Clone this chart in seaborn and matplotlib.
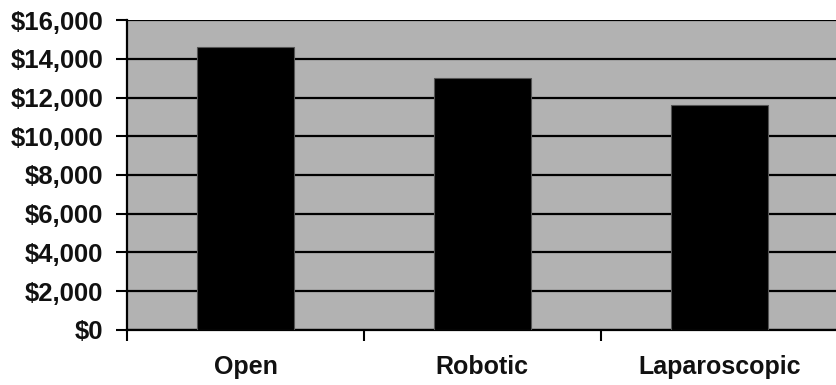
import matplotlib
matplotlib.use("Agg")
import matplotlib.pyplot as plt
import seaborn as sns
import pandas as pd
from matplotlib.ticker import FuncFormatter, FixedLocator

categories = ["Open", "Robotic", "Laparoscopic"]
costs = [14600, 13000, 11600]
yticks = list(range(0, 16001, 2000))

sns.set_style("white")
plt.rcParams["font.family"] = ["Liberation Sans", "DejaVu Sans"]
plt.rcParams["font.weight"] = "bold"

df = pd.DataFrame({"approach": categories, "cost": costs})

fig = plt.figure(figsize=(8.36, 3.85), dpi=100)
ax = fig.add_axes([0.152, 0.143, 0.85, 0.805])
ax.set_facecolor("#b2b2b2")

sns.barplot(data=df, x="approach", y="cost", color="black", width=0.41,
            edgecolor="#555555", linewidth=0.8, saturation=1, ax=ax, zorder=3)

ax.set_ylim(0, 16000)
ax.set_xlim(-0.5, 2.5)
ax.set_yticks(yticks)
ax.yaxis.set_major_formatter(FuncFormatter(lambda v, p: f"${int(v):,}"))
ax.yaxis.grid(True, color="black", linewidth=1.6, zorder=1)
ax.set_axisbelow(True)

ax.xaxis.set_minor_locator(FixedLocator([-0.5, 0.5, 1.5]))
ax.tick_params(axis="x", which="major", bottom=True, length=0, pad=18, labelsize=18,
               labelcolor="#111111")
ax.tick_params(axis="x", which="minor", bottom=True, length=8, width=1.5,
               color="black", direction="out")
ax.tick_params(axis="y", which="major", left=True, length=8, width=1.5, color="black",
               direction="out", labelsize=18.5, pad=9, labelcolor="#111111")
for lab in ax.get_xticklabels() + ax.get_yticklabels():
    lab.set_fontweight("bold")

ax.set_xlabel("")
ax.set_ylabel("")
for side in ["top", "right"]:
    ax.spines[side].set_visible(False)
for side in ["left", "bottom"]:
    ax.spines[side].set_color("black")
    ax.spines[side].set_linewidth(1.6)

fig.savefig("out.png", dpi=100)
